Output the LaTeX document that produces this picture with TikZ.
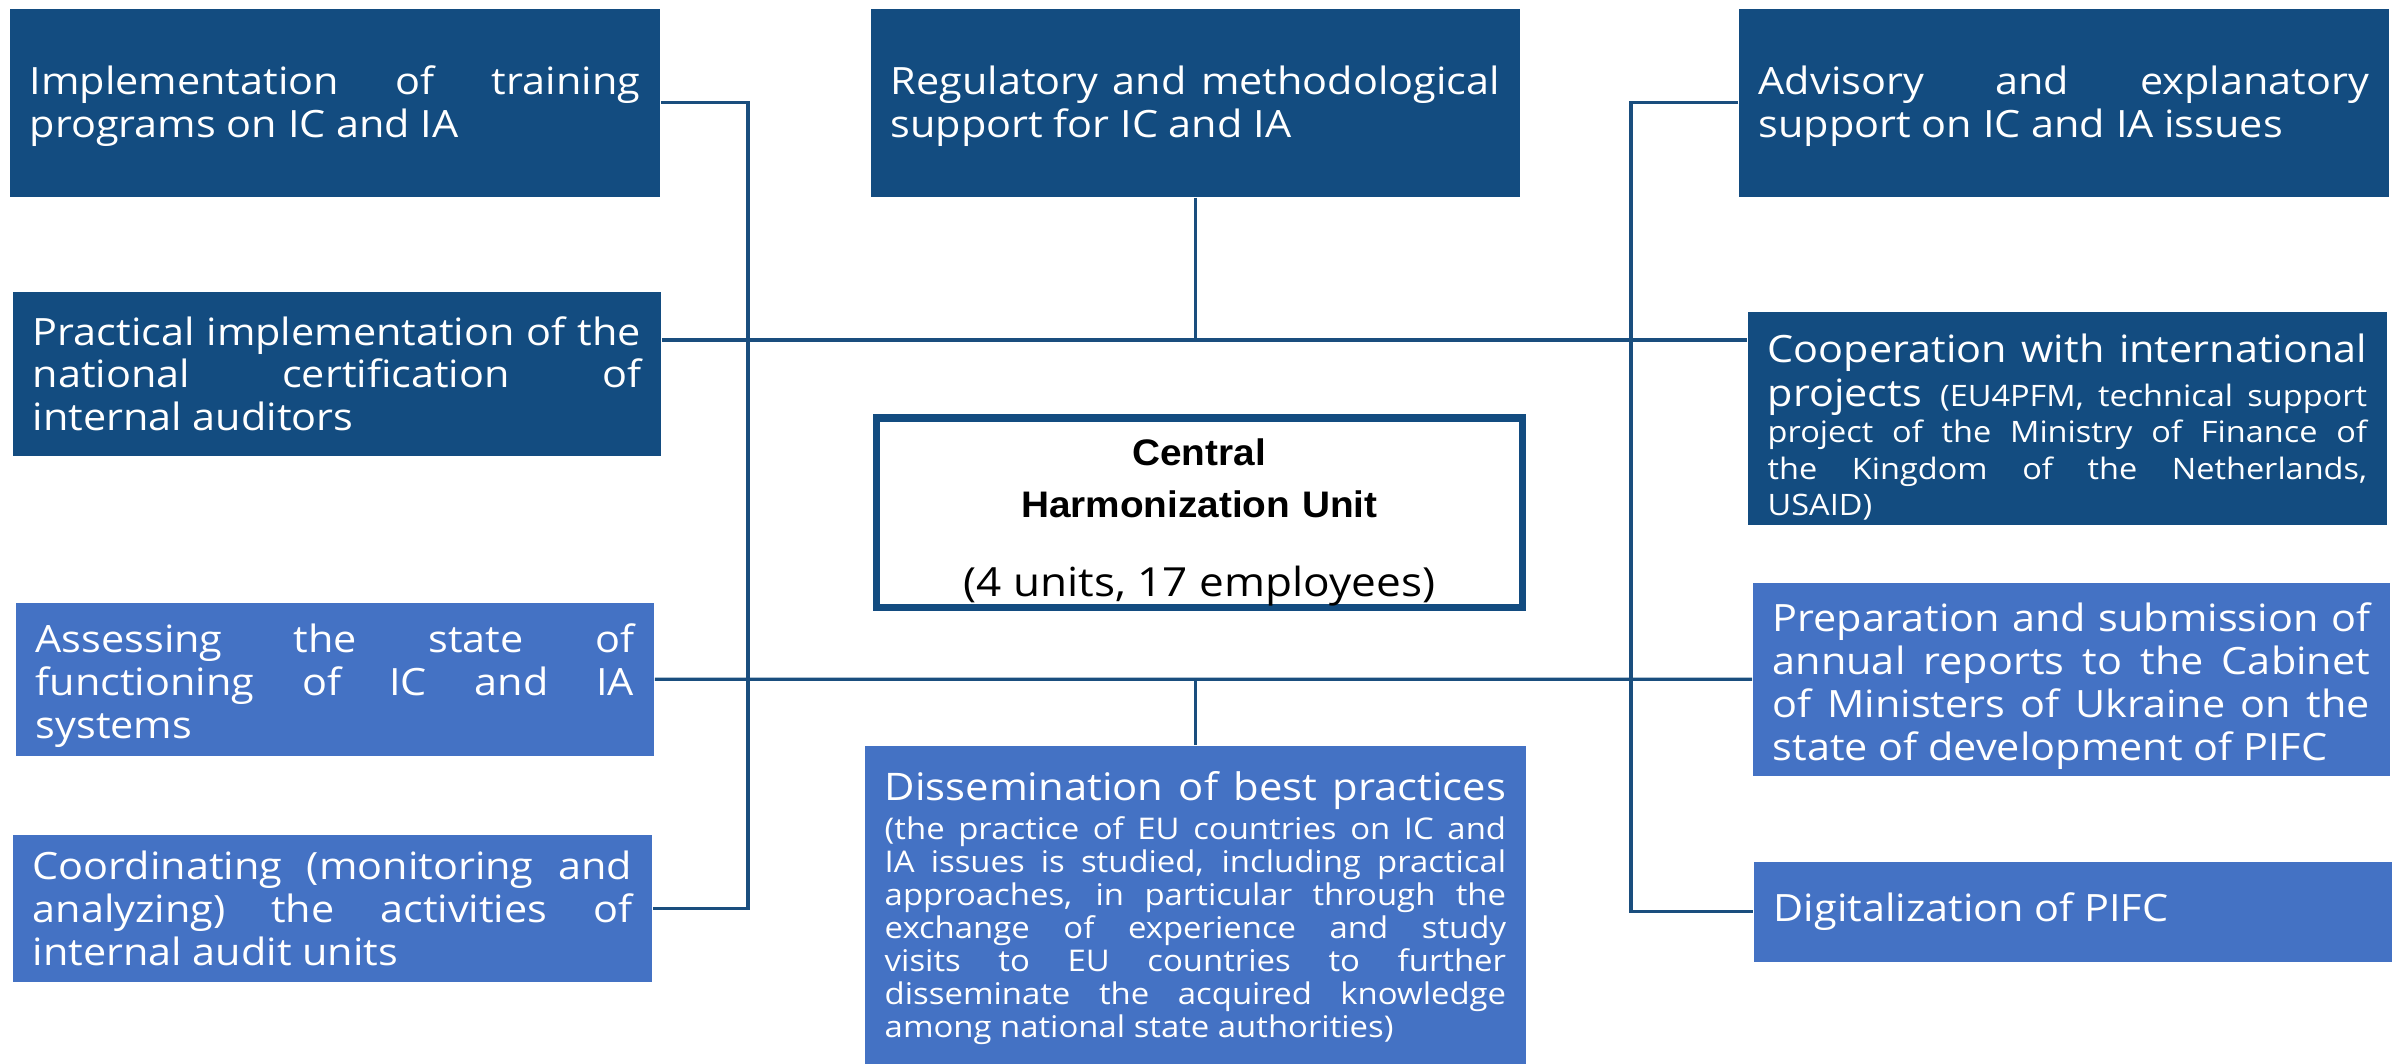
\documentclass[tikz,border=0pt]{standalone}
\usepackage{fontspec}
\setmainfont{Open Sans}[FakeStretch=1.1]
\newfontfamily\headfont{Liberation Sans}[FakeStretch=1.05]
\usepackage{tikz}
\usetikzlibrary{calc}
\usetikzlibrary{positioning}
\usepackage{xcolor}
\definecolor{darkblue}{RGB}{19,76,128}
\definecolor{lightblue}{RGB}{68,114,196}
\definecolor{linkblue}{RGB}{26,78,126}

\tikzset{
        task/.style={anchor=north west,inner xsep=0.2cm,inner ysep=0pt,text=white,
          align=justify,font=\fontsize{10.7}{12.2}\selectfont},
        taskdark/.style={task,fill=darkblue},
        tasklight/.style={task,fill=lightblue},
        bus/.style={draw=linkblue,line width=0.95pt}
}

\begin{document}
\begin{tikzpicture}[x=0.01cm,y=-0.01cm]
        \useasboundingbox (0,0) rectangle (2403,1064);

        % left column
        \node[taskdark,minimum width=6.5cm,minimum height=1.88cm,text width=6.1cm] (impl) at (9,8)
          {\rule{0pt}{10pt}Implementation of training\linebreak programs on IC and IA};
        \node[taskdark,minimum width=6.48cm,minimum height=1.64cm,text width=6.08cm] (pract) at (12,291)
          {Practical implementation of the\linebreak national certification of\linebreak internal auditors};
        \node[tasklight,minimum width=6.38cm,minimum height=1.53cm,text width=5.98cm] (assess) at (15,602)
          {\rule{0pt}{12pt}Assessing the state of\linebreak functioning of IC and IA\linebreak systems};
        \node[tasklight,minimum width=6.39cm,minimum height=1.47cm,text width=5.99cm] (coord) at (12,834)
          {Coordinating (monitoring and\linebreak analyzing) the activities of\linebreak internal audit units};

        % middle column
        \node[taskdark,minimum width=6.49cm,minimum height=1.88cm,text width=6.09cm] (reg) at (870,8)
          {\rule{0pt}{10pt}Regulatory and methodological\linebreak support for IC and IA};
        \node[draw=darkblue,line width=2pt,anchor=north west,minimum width=6.46cm,minimum height=1.89cm,
          text width=6.0cm,align=center,inner sep=0pt] (chu) at (872.5,414.5)
          {{\headfont\bfseries\fontsize{10.5}{15}\selectfont\rule{0pt}{13pt}Central\\ Harmonization Unit\par}
           {\fontsize{11.4}{22.2}\selectfont (4 units, 17 employees)\par}};
        \node[tasklight,minimum width=6.61cm,minimum height=3.25cm,text width=6.21cm] (dissem) at (864,745)
          {{\fontsize{10.8}{12}\selectfont Dissemination of best practices}\linebreak
           \fontsize{8.5}{9.4}\selectfont\rule{0pt}{7.4pt}(the practice of EU countries on IC and\linebreak
           IA issues is studied, including practical\linebreak approaches, in particular through the\linebreak
           exchange of experience and study\linebreak visits to EU countries to further\linebreak
           disseminate the acquired knowledge\linebreak among national state authorities)\par};

        % right column
        \node[taskdark,minimum width=6.5cm,minimum height=1.88cm,text width=6.1cm] (adv) at (1738,8)
          {\rule{0pt}{10pt}Advisory and explanatory\linebreak support on IC and IA issues};
        \node[taskdark,minimum width=6.39cm,minimum height=2.13cm,text width=5.99cm] (coop) at (1747,311)
          {\rule{0pt}{13pt}Cooperation with international\linebreak \rule{0pt}{9pt}projects
           \fontsize{8.4}{10.3}\selectfont(EU4PFM, technical support\linebreak project of the Ministry of Finance of\linebreak
           the Kingdom of the Netherlands,\linebreak USAID)\par};
        \node[tasklight,minimum width=6.37cm,minimum height=1.93cm,text width=5.97cm] (prep) at (1752,582)
          {\rule{0pt}{12pt}Preparation and submission of\linebreak annual reports to the Cabinet\linebreak
           of Ministers of Ukraine on the\linebreak state of development of PIFC};
        \node[tasklight,minimum width=6.38cm,minimum height=1.0cm,text width=5.98cm] (digit) at (1753,861)
          {Digitalization of PIFC};

        % connectors
        \coordinate (lbus) at (748,0);
        \coordinate (rbus) at (1631,0);
        \coordinate (tbus) at (0,340);
        \draw[bus] (impl.east) -- (impl.east -| lbus) -- (coord.east -| lbus) -- (coord.east);
        \draw[bus] (adv.west) -- (adv.west -| rbus) -- (digit.west -| rbus) -- (digit.west);
        \draw[bus] (pract.east |- tbus) -- (coop.west |- tbus);
        \draw[bus] (reg.south) -- (reg.south |- tbus);
        \draw[bus] (assess.east) -- (prep.west);
        \draw[bus] (dissem.north) -- (dissem.north |- assess.east);
\end{tikzpicture}
\end{document}
